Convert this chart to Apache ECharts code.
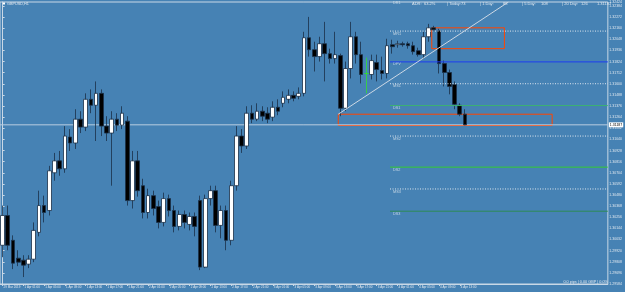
<!DOCTYPE html>
<html>
<head>
<meta charset="utf-8">
<title>GBPUSD,H1</title>
<script src="https://cdn.jsdelivr.net/npm/echarts@6/dist/echarts.min.js"></script>
</head>
<body style="margin:0;width:625px;height:292px;overflow:hidden;background:#4682b4">
<div id="main" style="width:625px;height:292px"></div>
<script>
// axis labels shown under the chart, one every 4 hourly bars
var tickLabels = ['29 Mar 2019','1 Apr 01:00','1 Apr 05:00','1 Apr 09:00','1 Apr 13:00','1 Apr 17:00',
    '1 Apr 21:00','2 Apr 01:00','2 Apr 05:00','2 Apr 09:00','2 Apr 13:00','2 Apr 17:00','2 Apr 21:00',
    '3 Apr 01:00','3 Apr 05:00','3 Apr 09:00','3 Apr 13:00','3 Apr 17:00','3 Apr 21:00','4 Apr 01:00',
    '4 Apr 05:00','4 Apr 09:00','4 Apr 13:00'];

// H1 candles, 29 Mar 21:00 -> 4 Apr 14:00
var opens = [1.29974,1.30274,1.30024,1.29844,1.29824,1.29784,1.29834,1.30104,1.30374,1.30324,
    1.30704,1.30824,1.30744,1.31064,1.31004,1.31244,1.31164,1.31444,1.31384,1.31504,
    1.31174,1.31104,1.31244,1.31184,1.31224,1.30424,1.30824,1.30574,1.30304,1.30474,
    1.30364,1.30204,1.30444,1.30324,1.30164,1.30284,1.30184,1.30264,1.30424,1.29754,
    1.30444,1.30524,1.30174,1.30324,1.30024,1.30574,1.31074,1.30974,1.31304,1.31244,
    1.31324,1.31304,1.31264,1.31364,1.31404,1.31444,1.31484,1.31474,1.31504,1.32064,
    1.31944,1.31874,1.32004,1.31904,1.31854,1.31884,1.31354,1.31754,1.32074,1.31894,
    1.31704,1.31694,1.31814,1.31734,1.31704,1.31994,1.31994,1.32004,1.32004,1.31984,
    1.31934,1.31894,1.32074,1.32164,1.32134,1.31804,1.31714,1.31594,1.31384,1.31294];
var closes = [1.30274,1.29974,1.29794,1.29804,1.29774,1.29834,1.30124,1.30374,1.30304,1.30724,
    1.30824,1.30744,1.31074,1.31004,1.31244,1.31164,1.31444,1.31384,1.31504,1.31174,
    1.31104,1.31244,1.31184,1.31304,1.30424,1.30824,1.30524,1.30304,1.30474,1.30344,
    1.30204,1.30444,1.30324,1.30164,1.30284,1.30204,1.30264,1.30164,1.29754,1.30444,
    1.30524,1.30174,1.30324,1.30024,1.30574,1.31074,1.30974,1.31304,1.31244,1.31324,
    1.31274,1.31244,1.31364,1.31324,1.31464,1.31484,1.31454,1.31504,1.32064,1.31944,
    1.31874,1.32004,1.31904,1.31854,1.31894,1.31354,1.31754,1.32074,1.31894,1.31694,
    1.31704,1.31834,1.31744,1.31704,1.31984,1.31974,1.32004,1.31994,1.31984,1.31924,
    1.31894,1.32074,1.32164,1.32144,1.31804,1.31714,1.31574,1.31394,1.31294,1.31187];
var lows = [1.29854,1.29924,1.29734,1.29764,1.29654,1.29744,1.29804,1.30064,1.30204,1.30274,
    1.30624,1.30674,1.30704,1.30924,1.30944,1.31104,1.31124,1.31304,1.31024,1.31074,
    1.31024,1.30574,1.31124,1.31144,1.30374,1.30344,1.30464,1.30244,1.30244,1.30274,
    1.30144,1.30164,1.30264,1.30104,1.30124,1.30144,1.30124,1.30064,1.29724,1.29744,
    1.30374,1.30104,1.30044,1.29924,1.29974,1.30524,1.30904,1.30944,1.31204,1.31224,
    1.31224,1.31204,1.31224,1.31284,1.31364,1.31404,1.31424,1.31444,1.31474,1.31874,
    1.31724,1.31824,1.31624,1.31804,1.31804,1.31274,1.31324,1.31654,1.31804,1.31604,
    1.31504,1.31644,1.31624,1.31644,1.31654,1.31904,1.31964,1.31974,1.31954,1.31894,
    1.31874,1.31854,1.32024,1.32124,1.31704,1.31574,1.31494,1.31344,1.31274,1.31184];
var highs = [1.30374,1.30374,1.30074,1.29924,1.29874,1.29874,1.30204,1.30524,1.30474,1.30774,
    1.30904,1.30924,1.31174,1.31144,1.31344,1.31324,1.31504,1.31544,1.31624,1.31544,
    1.31274,1.31324,1.31304,1.31374,1.31274,1.30924,1.30924,1.30644,1.30544,1.30524,
    1.30424,1.30504,1.30484,1.30374,1.30324,1.30324,1.30304,1.30304,1.30474,1.30484,
    1.30574,1.30574,1.30374,1.30374,1.30624,1.31174,1.31144,1.31374,1.31384,1.31404,
    1.31374,1.31364,1.31424,1.31444,1.31524,1.31544,1.31524,1.31564,1.32124,1.32274,
    1.32024,1.32074,1.32224,1.31954,1.32124,1.31904,1.31824,1.32224,1.32124,1.32024,
    1.31864,1.31894,1.31894,1.31874,1.32054,1.32044,1.32034,1.32024,1.32024,1.32024,
    1.31964,1.32124,1.32204,1.32184,1.32154,1.31834,1.31744,1.31624,1.31404,1.31344];
var lastPrice = 1.31187;

// pivot levels drawn from the 4 Apr 05:00 bar to the right edge
var pivotNames  = ['DR1','MR1','DPV','MS1','DS1','MS2','DS2','MS3','DS3'];
var pivotPrices = [1.32444,1.32131,1.31821,1.31601,1.31381,1.31074,1.30761,1.30541,1.30317];
var pivotStart = 74.57;

// drawn objects, in bar index / price units
var boxes = [[82.61, 1.32164, 96.59, 1.31954], [64.61, 1.31294, 105.78, 1.31180]];
var trendLine = [[64.61, 1.31294], [97.36, 1.32424]];

var header = ['ADR:', '63.2%', '| Today:', '73', '| 1 Day:', '88', '| 5 Day:', '108', '| 20 Day:', '126', '1.31187'];
var footer = '0.0 pips | 0.00 GBP | 0.0%';

var pivotStyle = {
    DR1: {color: '#3cb371', type: 'solid'},
    MR1: {color: '#dde6ef', type: [1, 1.5]},
    DPV: {color: '#1d3cf0', type: 'solid'},
    MS1: {color: '#dde6ef', type: [1, 1.5]},
    DS1: {color: '#3cb371', type: 'solid'},
    MS2: {color: '#dde6ef', type: [1, 1.5]},
    DS2: {color: '#32cd32', type: 'solid'},
    MS3: {color: '#dde6ef', type: [1, 1.5]},
    DS3: {color: '#2e8b57', type: 'solid'}
};
var headerX = [412, 424, 447, 461, 480, 503, 522, 541, 562, 581, 597];

var N = 117;
var categories = [];
for (var i = 0; i < N; i++) {
    var d, h;
    if (i < 3) { d = '29 Mar'; h = 21 + i; }
    else { d = (1 + Math.floor((i - 3) / 24)) + ' Apr'; h = (i - 3) % 24; }
    categories.push(d + ' ' + (h < 10 ? '0' : '') + h + ':00');
}

var candleData = [];
for (var i = 0; i < opens.length; i++) {
    var item = {value: [opens[i], closes[i], lows[i], highs[i]]};
    if (opens[i] === closes[i]) {
        item.itemStyle = {color: '#33dd33', color0: '#33dd33', borderColor: '#33dd33', borderColor0: '#33dd33'};
    }
    candleData.push(item);
}

function showTick(index) {
    return index % 4 === 0 && index / 4 < tickLabels.length;
}

var txt = '#dfe7ef';
var axisCol = '#c9d8e6';

var series = [{
    type: 'candlestick',
    xAxisIndex: 0,
    data: candleData,
    barWidth: '80%',
    itemStyle: {color: '#ffffff', color0: '#000000', borderColor: '#1b3048', borderColor0: '#1b3048', borderWidth: 0.8}
}];

pivotNames.forEach(function (name, k) {
    series.push({
        type: 'line', xAxisIndex: 1, symbol: 'none', silent: true, clip: true,
        lineStyle: {color: pivotStyle[name].color, type: pivotStyle[name].type, width: 1},
        data: [[pivotStart, pivotPrices[k]], [N - 0.5, pivotPrices[k]]]
    });
});

series.push({
    type: 'scatter', xAxisIndex: 1, symbolSize: 0.1, silent: true, clip: false,
    label: {
        show: true, position: 'right', distance: 3, offset: [0, 2.5],
        formatter: function (p) { return p.value[2]; },
        color: txt, fontSize: 3.8
    },
    data: pivotNames.map(function (n, k) { return [pivotStart, pivotPrices[k], n]; })
});

// current bid line
series.push({
    type: 'line', xAxisIndex: 1, symbol: 'none', silent: true, clip: false, z: 1,
    lineStyle: {color: '#b9cde0', width: 1},
    data: [[-0.5, lastPrice], [N - 0.5, lastPrice]],
    endLabel: {
        show: true, distance: 1, formatter: lastPrice.toFixed(5),
        backgroundColor: '#ffffff', color: '#000000', fontSize: 3.5, padding: [1, 1, 0, 1]
    }
});

series.push({
    type: 'line', xAxisIndex: 1, symbol: 'none', silent: true, clip: true,
    lineStyle: {color: '#cdd8e4', width: 1},
    data: trendLine,
    markArea: {
        silent: true,
        itemStyle: {color: 'rgba(0,0,0,0)', borderColor: '#ff4500', borderWidth: 1},
        data: boxes.map(function (b) { return [{coord: [b[0], b[1]]}, {coord: [b[2], b[3]]}]; })
    }
});

var graphics = [
    {type: 'rect', shape: {x: 2, y: 2.5, width: 3, height: 2}, style: {fill: '#ffffff'}},
    {type: 'text', x: 7, y: 1.5, style: {text: 'GBPUSD,H1', fill: txt, fontSize: 3.8, fontFamily: 'Liberation Sans'}},
    {type: 'text', right: 17, top: 279.5, style: {text: footer, fill: txt, fontSize: 3.8, fontFamily: 'Liberation Sans'}}
];
header.forEach(function (t, k) {
    graphics.push({type: 'text', x: headerX[k], y: 2, style: {text: t, fill: txt, fontSize: 4, fontFamily: 'Liberation Sans'}});
});

var option = {
    animation: false,
    backgroundColor: '#4682b4',
    textStyle: {fontFamily: 'Liberation Sans'},
    grid: {left: 0, right: 14, top: 0, bottom: 8, show: true, borderColor: axisCol, borderWidth: 1, backgroundColor: 'transparent'},
    xAxis: [{
        type: 'category',
        data: categories,
        boundaryGap: true,
        axisLine: {lineStyle: {color: axisCol}},
        axisTick: {show: true, alignWithLabel: true, interval: showTick, length: 2, lineStyle: {color: axisCol}},
        axisLabel: {
            interval: showTick, align: 'left', margin: 1.5, fontSize: 3, color: txt, padding: [0, 0, 0, 1],
            formatter: function (v, idx) { return tickLabels[idx / 4] || ''; }
        },
        splitLine: {show: false}
    }, {
        type: 'value', min: -0.5, max: N - 0.5, show: false
    }],
    yAxis: {
        type: 'value',
        position: 'right',
        min: 1.29584,
        max: 1.32424,
        interval: 0.00112,
        axisLine: {show: true, lineStyle: {color: axisCol}},
        axisTick: {show: true, length: 2, lineStyle: {color: axisCol}},
        axisLabel: {fontSize: 3.5, color: txt, margin: 1.5, formatter: function (v) { return v.toFixed(5); }},
        splitLine: {show: false}
    },
    graphic: graphics,
    series: series
};

var chart = echarts.init(document.getElementById('main'));
chart.setOption(option);
</script>
</body>
</html>
